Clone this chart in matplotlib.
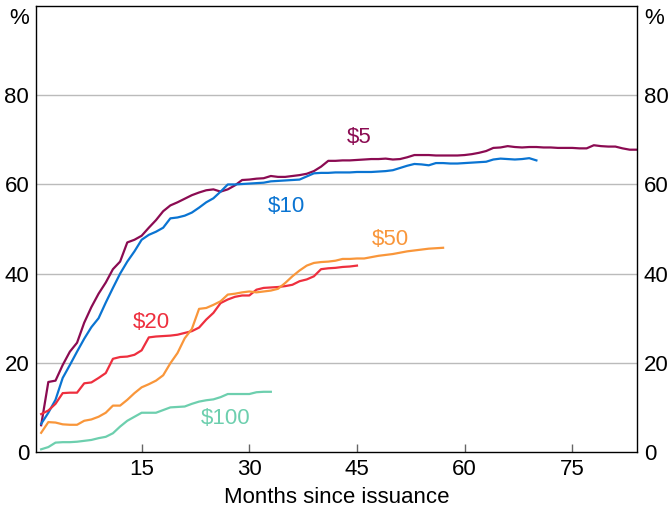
import matplotlib
matplotlib.use("Agg")
import matplotlib.pyplot as plt
import numpy as np

plt.rcParams['font.family'] = ['Liberation Sans', 'DejaVu Sans']

s5 = [6, 15.7, 16, 19.5, 22.5, 24.5, 29, 32.5, 35.5, 38, 41, 42.7, 47, 47.6, 48.5, 50.3, 52, 54, 55.3, 56,
      56.8, 57.6, 58.2, 58.7, 58.9, 58.4, 58.9, 59.8, 61, 61.1, 61.3, 61.4, 61.9, 61.7, 61.7, 61.9, 62.1, 62.4, 63, 64,
      65.3, 65.3, 65.4, 65.4, 65.5, 65.6, 65.7, 65.7, 65.8, 65.6, 65.7, 66.1, 66.6, 66.6, 66.6, 66.5, 66.5, 66.5, 66.5, 66.6,
      66.8, 67.1, 67.5, 68.2, 68.3, 68.6, 68.4, 68.3, 68.4, 68.4, 68.3, 68.3, 68.2, 68.2, 68.2, 68.1, 68.1, 68.8, 68.6, 68.5,
      68.5, 68.1, 67.8, 67.8]
s10 = [6.3, 8.8, 11.7, 16.6, 19.5, 22.5, 25.4, 28, 30, 33.5, 36.8, 40, 42.7, 45, 47.6, 48.7, 49.4, 50.3, 52.4, 52.6,
       53, 53.7, 54.8, 56, 56.9, 58.4, 60, 60, 60.1, 60.2, 60.3, 60.4, 60.7, 60.8, 60.9, 61, 61.1, 61.8, 62.5, 62.6,
       62.6, 62.7, 62.7, 62.7, 62.8, 62.8, 62.8, 62.9, 63, 63.2, 63.7, 64.2, 64.6, 64.5, 64.3, 64.8, 64.8, 64.7, 64.7, 64.8,
       64.9, 65, 65.1, 65.6, 65.8, 65.7, 65.6, 65.7, 65.9, 65.4]
s20 = [8.5, 9.3, 10.8, 13.2, 13.3, 13.3, 15.4, 15.6, 16.6, 17.7, 20.9, 21.3, 21.4, 21.8, 22.8, 25.7, 25.9, 26, 26.1, 26.3,
       26.7, 27.1, 27.9, 29.7, 31.2, 33.4, 34.2, 34.8, 35.1, 35.1, 36.4, 36.8, 36.9, 37, 37.2, 37.5, 38.3, 38.7, 39.4, 41,
       41.2, 41.3, 41.5, 41.6, 41.8]
s50 = [4.3, 6.7, 6.6, 6.2, 6.1, 6.1, 7, 7.3, 7.9, 8.8, 10.4, 10.4, 11.7, 13.2, 14.5, 15.2, 16, 17.2, 19.9, 22.2,
       25.5, 27.6, 32.1, 32.3, 33, 33.8, 35.3, 35.5, 35.8, 36, 35.8, 36, 36.2, 36.6, 37.9, 39.4, 40.7, 41.8, 42.4, 42.6,
       42.7, 42.9, 43.3, 43.3, 43.4, 43.4, 43.7, 44, 44.2, 44.4, 44.7, 45, 45.2, 45.4, 45.6, 45.7, 45.8]
s100 = [0.6, 1.1, 2.1, 2.2, 2.2, 2.3, 2.5, 2.7, 3.1, 3.4, 4.2, 5.7, 7, 7.9, 8.8, 8.8, 8.8, 9.4, 10, 10.1,
        10.2, 10.8, 11.3, 11.6, 11.8, 12.3, 13, 13, 13, 13, 13.4, 13.5, 13.5]

series = [("$5", s5, "#8B0B52", (45.3, 70.5)),
          ("$10", s10, "#0A74D2", (35.2, 55)),
          ("$20", s20, "#EE2F3E", (16.3, 29)),
          ("$50", s50, "#F9963A", (49.7, 47.6)),
          ("$100", s100, "#6DCFAE", (26.7, 7.6))]

xticks = [15, 30, 45, 60, 75]
yticks = [0, 20, 40, 60, 80]
FS = 16

fig = plt.figure(figsize=(6.69, 5.11), dpi=100)
ax = fig.add_axes([0.054, 0.1155, 0.898, 0.8725])

for name, vals, col, (lx, ly) in series:
    m = np.arange(1, len(vals) + 1)
    ax.plot(m, vals, color=col, lw=1.6, solid_joinstyle='round')
    ax.text(lx, ly, name, color=col, fontsize=FS, ha='center', va='center')

ax.set_xlim(0.3, 84)
ax.set_ylim(0, 100)
ax.set_xticks(xticks)
ax.set_xticklabels([str(t) for t in xticks], fontsize=FS)
ax.set_yticks(yticks)
ax.set_yticklabels([str(t) for t in yticks], fontsize=FS)
ax.tick_params(axis='x', direction='in', length=6, width=1, pad=5, color='#666666')
ax.tick_params(axis='y', length=0, pad=5, labelright=True, labelleft=True)
for yv in [20, 40, 60, 80]:
    ax.axhline(yv, color='#BBBBBB', lw=1, zorder=0)
for sp in ax.spines.values():
    sp.set_linewidth(1)
    sp.set_color('black')

ax.text(-0.012, 0.995, "%", transform=ax.transAxes, fontsize=FS, ha='right', va='top')
ax.text(1.012, 0.995, "%", transform=ax.transAxes, fontsize=FS, ha='left', va='top')
ax.set_xlabel("Months since issuance", fontsize=FS, labelpad=5)

fig.savefig("out.png", dpi=100)
